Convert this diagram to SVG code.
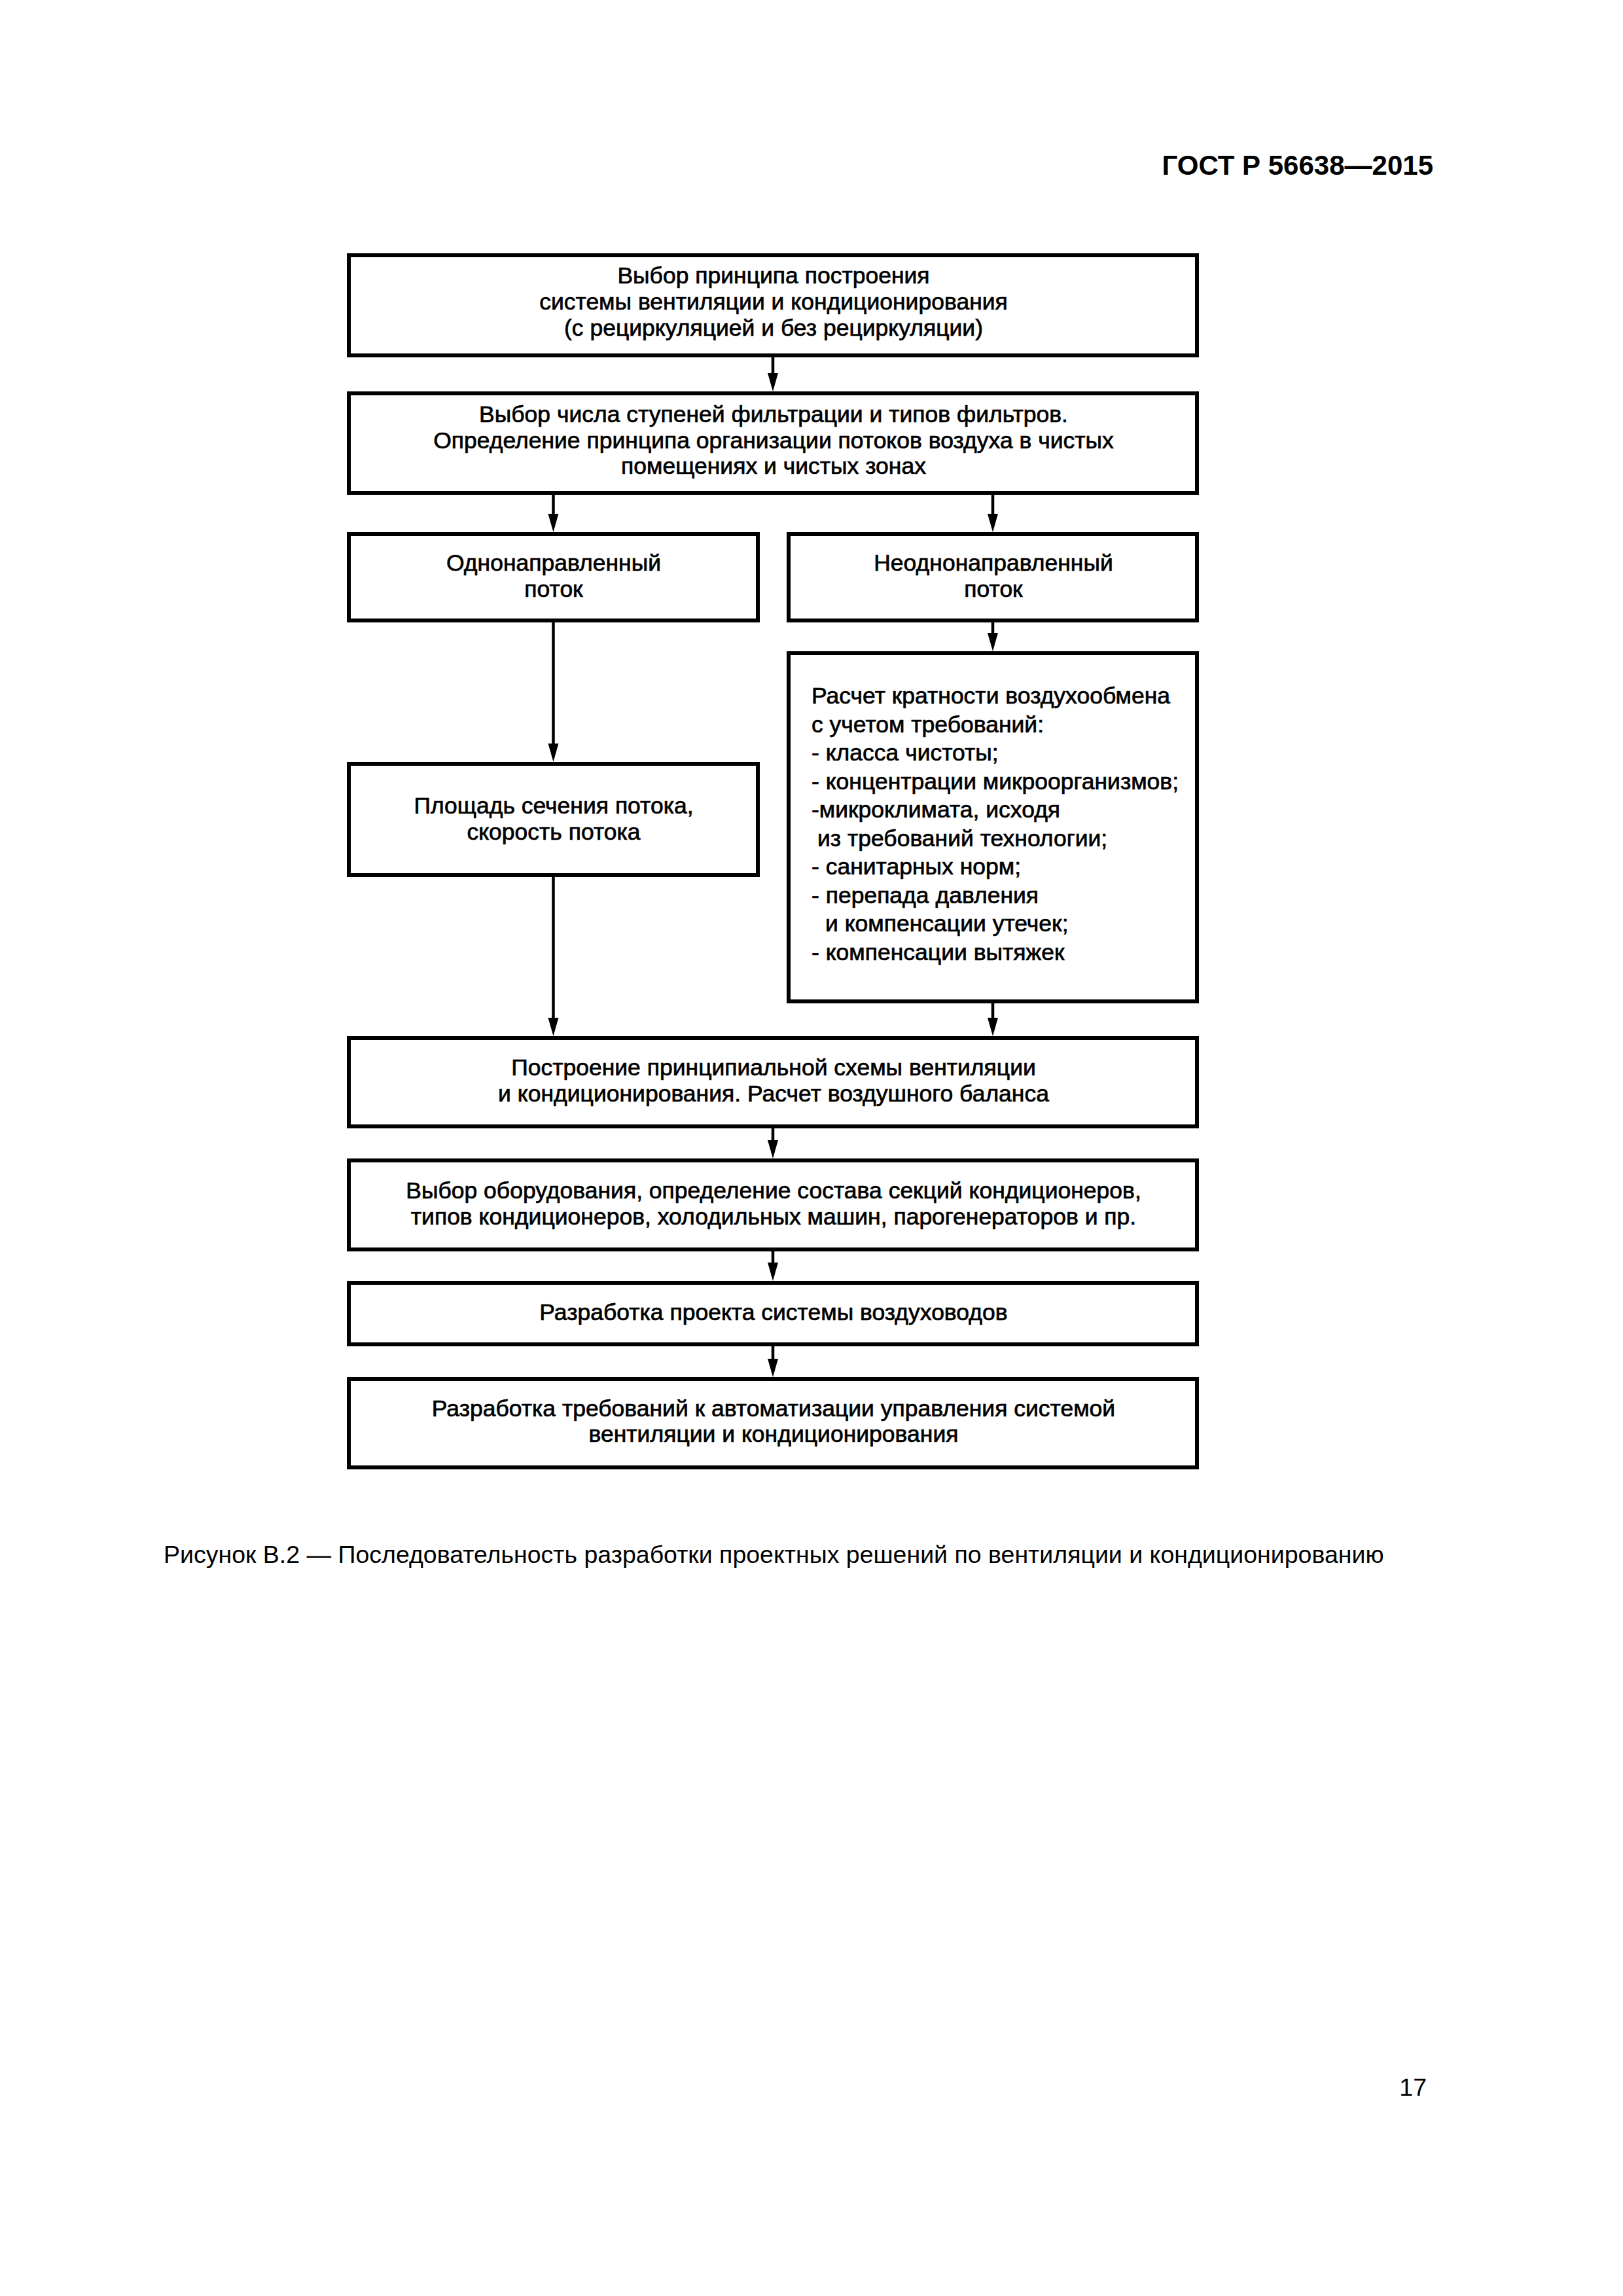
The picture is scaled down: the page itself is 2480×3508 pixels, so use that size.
<svg xmlns="http://www.w3.org/2000/svg" width="2480" height="3508" viewBox="0 0 2480 3508">
<style>
.box{fill:#fff;stroke:#000;stroke-width:6}
.t{font-family:"Liberation Sans",Arial,sans-serif;font-size:35.5px;fill:#000;stroke:#000;stroke-width:0.7;text-anchor:middle}
.tl{text-anchor:start}
.cap{font-family:"Liberation Sans",Arial,sans-serif;font-size:37.5px;fill:#000}
.hdr{font-family:"Liberation Sans",Arial,sans-serif;font-size:42px;font-weight:bold;fill:#000;text-anchor:end}
.c{stroke:#000;stroke-width:4.5;fill:none}
.ah{fill:#000}
</style>
<rect width="2480" height="3508" fill="#fff"/>
<text class="hdr" x="2190" y="267">ГОСТ Р 56638—2015</text>

<g id="connectors">
<path class="c" d="M1181,543 V590"/>
<path class="ah" d="M1173,570 L1189,570 L1181,598 Z"/>
<path class="c" d="M845.5,753 V805"/>
<path class="ah" d="M837.5,785 L853.5,785 L845.5,813 Z"/>
<path class="c" d="M1517,753 V805"/>
<path class="ah" d="M1509,785 L1525,785 L1517,813 Z"/>
<path class="c" d="M1517,948 V987"/>
<path class="ah" d="M1509,967 L1525,967 L1517,995 Z"/>
<path class="c" d="M845.5,948 V1156"/>
<path class="ah" d="M837.5,1136 L853.5,1136 L845.5,1164 Z"/>
<path class="c" d="M845.5,1337 V1575"/>
<path class="ah" d="M837.5,1555 L853.5,1555 L845.5,1583 Z"/>
<path class="c" d="M1517,1530 V1575"/>
<path class="ah" d="M1509,1555 L1525,1555 L1517,1583 Z"/>
<path class="c" d="M1181,1721 V1762"/>
<path class="ah" d="M1173,1742 L1189,1742 L1181,1770 Z"/>
<path class="c" d="M1181,1909 V1949"/>
<path class="ah" d="M1173,1929 L1189,1929 L1181,1957 Z"/>
<path class="c" d="M1181,2054 V2096"/>
<path class="ah" d="M1173,2076 L1189,2076 L1181,2104 Z"/>
</g>

<g id="n1">
<rect class="box" x="533" y="390" width="1296" height="153"/>
<text class="t" x="1182" y="433">Выбор принципа построения</text>
<text class="t" x="1182" y="473">системы вентиляции и кондиционирования</text>
<text class="t" x="1182" y="513">(с рециркуляцией и без рециркуляции)</text>
</g>
<g id="n2">
<rect class="box" x="533" y="601" width="1296" height="152"/>
<text class="t" x="1182" y="645">Выбор числа ступеней фильтрации и типов фильтров.</text>
<text class="t" x="1182" y="685">Определение принципа организации потоков воздуха в чистых</text>
<text class="t" x="1182" y="724">помещениях и чистых зонах</text>
</g>
<g id="n3">
<rect class="box" x="533" y="816" width="625" height="132"/>
<text class="t" x="846" y="872">Однонаправленный</text>
<text class="t" x="846" y="912">поток</text>
</g>
<g id="n4">
<rect class="box" x="1205" y="816" width="624" height="132"/>
<text class="t" x="1518" y="872">Неоднонаправленный</text>
<text class="t" x="1518" y="912">поток</text>
</g>
<g id="n5">
<rect class="box" x="1205" y="998" width="624" height="532"/>
<text class="t tl" x="1240" y="1075">Расчет кратности воздухообмена</text>
<text class="t tl" x="1240" y="1118.5">с учетом требований:</text>
<text class="t tl" x="1240" y="1162">- класса чистоты;</text>
<text class="t tl" x="1240" y="1205.5">- концентрации микроорганизмов;</text>
<text class="t tl" x="1240" y="1249">-микроклимата, исходя</text>
<text class="t tl" x="1249" y="1292.5">из требований технологии;</text>
<text class="t tl" x="1240" y="1336">- санитарных норм;</text>
<text class="t tl" x="1240" y="1379.5">- перепада давления</text>
<text class="t tl" x="1261" y="1423">и компенсации утечек;</text>
<text class="t tl" x="1240" y="1466.5">- компенсации вытяжек</text>
</g>
<g id="n6">
<rect class="box" x="533" y="1167" width="625" height="170"/>
<text class="t" x="846" y="1243">Площадь сечения потока,</text>
<text class="t" x="846" y="1283">скорость потока</text>
</g>
<g id="n7">
<rect class="box" x="533" y="1586" width="1296" height="135"/>
<text class="t" x="1182" y="1643">Построение принципиальной схемы вентиляции</text>
<text class="t" x="1182" y="1683">и кондиционирования. Расчет воздушного баланса</text>
</g>
<g id="n8">
<rect class="box" x="533" y="1773" width="1296" height="136"/>
<text class="t" x="1182" y="1831">Выбор оборудования, определение состава секций кондиционеров,</text>
<text class="t" x="1182" y="1871">типов кондиционеров, холодильных машин, парогенераторов и пр.</text>
</g>
<g id="n9">
<rect class="box" x="533" y="1960" width="1296" height="94"/>
<text class="t" x="1182" y="2017">Разработка проекта системы воздуховодов</text>
</g>
<g id="n10">
<rect class="box" x="533" y="2107" width="1296" height="135"/>
<text class="t" x="1182" y="2164">Разработка требований к автоматизации управления системой</text>
<text class="t" x="1182" y="2203">вентиляции и кондиционирования</text>
</g>

<text class="cap" x="250" y="2388">Рисунок В.2 — Последовательность разработки проектных решений по вентиляции и кондиционированию</text>
<text class="cap" x="2180" y="3202" text-anchor="end">17</text>
</svg>
